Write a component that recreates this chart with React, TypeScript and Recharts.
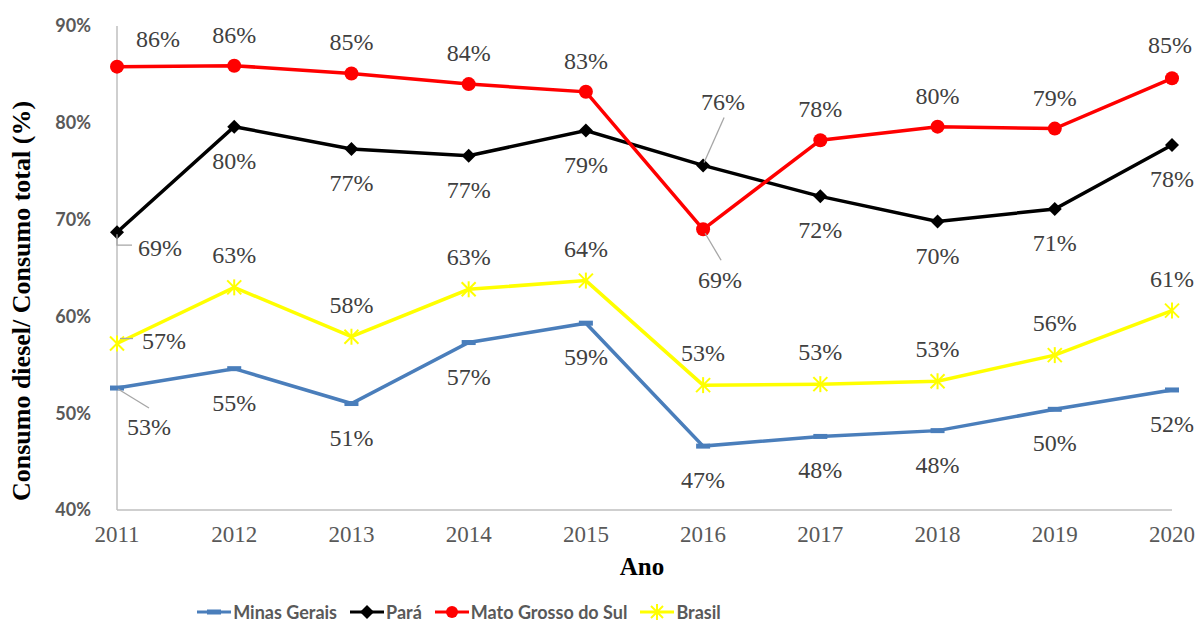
import React from "react";
import { LineChart, Line, XAxis, YAxis, LabelList } from "recharts";

const years = ["2011", "2012", "2013", "2014", "2015", "2016", "2017", "2018", "2019", "2020"];

const minasGerais = [52.6, 54.6, 51.0, 57.3, 59.3, 46.6, 47.6, 48.2, 50.4, 52.4];
const para = [68.7, 79.6, 77.3, 76.6, 79.2, 75.6, 72.4, 69.8, 71.1, 77.7];
const matoGrossoDoSul = [85.8, 85.9, 85.1, 84.0, 83.2, 69.0, 78.2, 79.6, 79.4, 84.6];
const brasil = [57.2, 63.0, 57.9, 62.8, 63.7, 52.9, 53.0, 53.3, 56.0, 60.6];

const minasGeraisLabels = ["53%", "55%", "51%", "57%", "59%", "47%", "48%", "48%", "50%", "52%"];
const paraLabels = ["69%", "80%", "77%", "77%", "79%", "76%", "72%", "70%", "71%", "78%"];
const matoGrossoDoSulLabels = ["86%", "86%", "85%", "84%", "83%", "69%", "78%", "80%", "79%", "85%"];
const brasilLabels = ["57%", "63%", "58%", "63%", "64%", "53%", "53%", "53%", "56%", "61%"];

const yTicks = [40, 50, 60, 70, 80, 90];

const data = years.map((year, i) => ({
  year,
  mg: minasGerais[i],
  pa: para[i],
  ms: matoGrossoDoSul[i],
  br: brasil[i],
}));

const BLUE = "#4a7ebb";
const RED = "#ff0000";
const YELLOW = "#ffff00";
const GRAY_AXIS = "#bfbfbf";

type Placement = { dx: number; dy: number; leader?: number[][] };

// default label offset per series, plus the few that Excel moved by hand
const labelPlacement = {
  mg: { base: { dx: 0, dy: 34 }, special: { 0: { dx: 32, dy: 39, leader: [[1, 1], [32, 20]] } } },
  pa: {
    base: { dx: 0, dy: 34 },
    special: {
      0: { dx: 43, dy: 16, leader: [[0, 2], [0, 13], [15, 13]] },
      5: { dx: 20, dy: -63, leader: [[1, -3], [21, -48]] },
    },
  },
  ms: {
    base: { dx: 0, dy: -31 },
    special: {
      0: { dx: 41, dy: -28 },
      5: { dx: 17, dy: 51, leader: [[2, 4], [18, 31]] },
      9: { dx: -2, dy: -33 },
    },
  },
  br: { base: { dx: 0, dy: -32 }, special: { 0: { dx: 47, dy: -3, leader: [[3, -5], [16, -5]] } } },
};

function makeLabel(key: keyof typeof labelPlacement, texts: string[]) {
  return (props: any) => {
    const { x, y, index } = props;
    const cfg = labelPlacement[key];
    const p: Placement = (cfg.special as any)[index] || cfg.base;
    return (
      <g>
        {p.leader && (
          <polyline
            points={p.leader.map(([a, b]) => `${x + a},${y + b}`).join(" ")}
            fill="none"
            stroke="#a6a6a6"
            strokeWidth={1.3}
          />
        )}
        <text
          x={x + p.dx}
          y={y + p.dy}
          textAnchor="middle"
          dominantBaseline="central"
          fontFamily="'Liberation Serif', 'Times New Roman', serif"
          fontSize={24}
          fill="#404040"
        >
          {texts[index]}
        </text>
      </g>
    );
  };
}

const dashDot = (props: any) => (
  <rect key={`mg-${props.index}`} x={props.cx - 7} y={props.cy - 2.5} width={14} height={5} fill={BLUE} />
);

const diamondDot = (props: any) => {
  const { cx, cy, index } = props;
  return (
    <path
      key={`pa-${index}`}
      d={`M${cx},${cy - 7} L${cx + 7},${cy} L${cx},${cy + 7} L${cx - 7},${cy} Z`}
      fill="#000"
    />
  );
};

const circleDot = (props: any) => (
  <circle key={`ms-${props.index}`} cx={props.cx} cy={props.cy} r={7} fill={RED} />
);

const starDot = (props: any) => {
  const { cx, cy, index } = props;
  const r = 7;
  return (
    <g key={`br-${index}`} stroke={YELLOW} strokeWidth={2}>
      <line x1={cx - r} y1={cy - r} x2={cx + r} y2={cy + r} />
      <line x1={cx - r} y1={cy + r} x2={cx + r} y2={cy - r} />
      <line x1={cx} y1={cy - r - 1} x2={cx} y2={cy + r + 1} />
    </g>
  );
};

function LegendIcon({ kind, color }: { kind: string; color: string }) {
  return (
    <svg width={34} height={16} style={{ display: "block", flex: "none" }}>
      <line x1={0} y1={8} x2={34} y2={8} stroke={color} strokeWidth={3} />
      {kind === "dash" && <rect x={10} y={5.5} width={14} height={5} fill={color} />}
      {kind === "diamond" && <path d="M17,1 L24,8 L17,15 L10,8 Z" fill={color} />}
      {kind === "circle" && <circle cx={17} cy={8} r={6} fill={color} />}
      {kind === "star" && (
        <g stroke={color} strokeWidth={2}>
          <line x1={11} y1={2} x2={23} y2={14} />
          <line x1={11} y1={14} x2={23} y2={2} />
          <line x1={17} y1={0} x2={17} y2={16} />
        </g>
      )}
    </svg>
  );
}

const legendItems = [
  { name: "Minas Gerais", kind: "dash", color: BLUE },
  { name: "Pará", kind: "diamond", color: "#000000" },
  { name: "Mato Grosso do Sul", kind: "circle", color: RED },
  { name: "Brasil", kind: "star", color: YELLOW },
];

export default function App() {
  return (
    <div style={{ position: "absolute", left: 0, top: 0, width: 1197, height: 623, background: "#fff" }}>
      <LineChart width={1197} height={623} data={data} margin={{ top: 26, right: 25, bottom: 83, left: 57 }}>
        <XAxis
          dataKey="year"
          height={30}
          axisLine={{ stroke: GRAY_AXIS, strokeWidth: 1.5 }}
          tickLine={false}
          tick={{ fontFamily: "'Liberation Serif', serif", fontSize: 23, fill: "#595959" }}
          tickMargin={10}
          interval={0}
        />
        <YAxis
          width={60}
          domain={[40, 90]}
          ticks={yTicks}
          axisLine={{ stroke: GRAY_AXIS, strokeWidth: 1.5 }}
          tickLine={false}
          tickFormatter={(v: number) => `${v}%`}
          tick={{ fontFamily: "Lato, sans-serif", fontWeight: 700, fontSize: 18, fill: "#595959" }}
          tickMargin={20}
        />
        <Line dataKey="mg" stroke={BLUE} strokeWidth={3.5} dot={dashDot} isAnimationActive={false}>
          <LabelList dataKey="mg" content={makeLabel("mg", minasGeraisLabels)} />
        </Line>
        <Line dataKey="br" stroke={YELLOW} strokeWidth={3.5} dot={starDot} isAnimationActive={false}>
          <LabelList dataKey="br" content={makeLabel("br", brasilLabels)} />
        </Line>
        <Line dataKey="pa" stroke="#000" strokeWidth={3.5} dot={diamondDot} isAnimationActive={false}>
          <LabelList dataKey="pa" content={makeLabel("pa", paraLabels)} />
        </Line>
        <Line dataKey="ms" stroke={RED} strokeWidth={3.5} dot={circleDot} isAnimationActive={false}>
          <LabelList dataKey="ms" content={makeLabel("ms", matoGrossoDoSulLabels)} />
        </Line>
      </LineChart>

      <div
        style={{
          position: "absolute",
          left: 22,
          top: 301,
          transform: "translate(-50%, -50%) rotate(-90deg)",
          whiteSpace: "nowrap",
          fontFamily: "'Liberation Serif', serif",
          fontWeight: 700,
          fontSize: 26,
          color: "#000",
        }}
      >
        Consumo diesel/ Consumo total (%)
      </div>
      <div
        style={{
          position: "absolute",
          left: 642,
          top: 567,
          transform: "translate(-50%, -50%)",
          fontFamily: "'Liberation Serif', serif",
          fontWeight: 700,
          fontSize: 25,
          color: "#000",
        }}
      >
        Ano
      </div>

      {/* legend: centred a bit left of the chart middle, like the source */}
      <div
        style={{
          position: "absolute",
          left: 0,
          width: 918,
          top: 598,
          height: 28,
          display: "flex",
          justifyContent: "center",
          alignItems: "center",
          whiteSpace: "nowrap",
          fontFamily: "Lato, sans-serif",
          fontWeight: 700,
          fontSize: 18,
          color: "#595959",
        }}
      >
        {legendItems.map((it, i) => (
          <div
            key={it.name}
            style={{ display: "flex", alignItems: "center", marginLeft: i === 0 ? 0 : 13 }}
          >
            <LegendIcon kind={it.kind} color={it.color} />
            <span style={{ marginLeft: 2 }}>{it.name}</span>
          </div>
        ))}
      </div>
    </div>
  );
}
